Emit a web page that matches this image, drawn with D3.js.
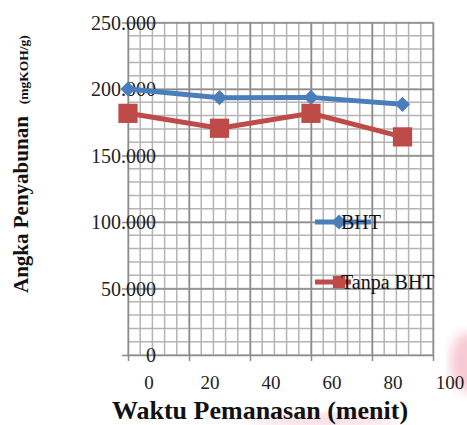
<!DOCTYPE html>
<html>
<head>
<meta charset="utf-8">
<script src="https://cdn.jsdelivr.net/npm/d3@7"></script>
<style>
  body { margin: 0; background: #fff; }
  svg text { font-family: "Liberation Serif", "Times New Roman", serif; }
</style>
</head>
<body>
<div id="chart"></div>
<script>
const width = 467, height = 425, margin = { top: 22.5, right: 34, bottom: 70, left: 128 };

// data
const waktu = [0, 30, 60, 90];
const bht = [200.0, 193.5, 193.7, 188.5];
const tanpaBht = [181.7, 170.5, 181.7, 164.0];
const seriesNames = ["BHT", "Tanpa BHT"];
const xTicks = [0, 20, 40, 60, 80, 100];
const yTicks = [0, 50, 100, 150, 200, 250];
const yTickLabels = ["0", "50.000", "100.000", "150.000", "200.000", "250.000"];

const x = d3.scaleLinear().domain([0, 100]).range([margin.left, width - margin.right]);
const y = d3.scaleLinear().domain([0, 250]).range([height - margin.bottom, margin.top]);

const svg = d3.select("#chart").append("svg")
    .attr("width", width).attr("height", height)
    .attr("font-family", "Liberation Serif, serif");

// faint pink watermark smudges of the scanned page
const defs = svg.append("defs");
defs.append("filter").attr("id", "blur").append("feGaussianBlur").attr("stdDeviation", 6);
svg.append("ellipse").attr("cx", 470).attr("cy", 362).attr("rx", 20).attr("ry", 30)
    .attr("fill", "#f7c9d3").attr("filter", "url(#blur)");
svg.append("ellipse").attr("cx", 325).attr("cy", 420).attr("rx", 75).attr("ry", 6)
    .attr("fill", "#fad6de").attr("filter", "url(#blur)");

// minor grid
svg.append("g")
    .selectAll("line")
    .data(d3.range(0, 101, 4))
    .join("line")
      .attr("x1", d => x(d)).attr("x2", d => x(d))
      .attr("y1", y(250)).attr("y2", y(0))
      .attr("stroke", "#b4b4b4").attr("stroke-width", 1.5);
svg.append("g")
    .selectAll("line")
    .data(d3.range(0, 251, 10))
    .join("line")
      .attr("x1", x(0)).attr("x2", x(100))
      .attr("y1", d => y(d)).attr("y2", d => y(d))
      .attr("stroke", "#b4b4b4").attr("stroke-width", 1.5);

// major grid via axes
svg.append("g")
    .attr("transform", `translate(0,${y(0)})`)
    .call(d3.axisBottom(x).tickValues(xTicks).tickSize(-(y(0) - y(250))).tickSizeOuter(0).tickFormat(""))
    .call(g => g.select(".domain").remove())
    .call(g => g.selectAll(".tick line").attr("stroke", "#8c8c8c").attr("stroke-width", 1.5)
        .attr("y1", 6));
svg.append("g")
    .attr("transform", `translate(${x(0)},0)`)
    .call(d3.axisLeft(y).tickValues(yTicks).tickSize(-(x(100) - x(0))).tickSizeOuter(0).tickFormat(""))
    .call(g => g.select(".domain").remove())
    .call(g => g.selectAll(".tick line").attr("stroke", "#8c8c8c").attr("stroke-width", 1.5)
        .attr("x1", -6));

// tick labels (they sit to the right of the gridlines, as in the original)
svg.append("g")
    .selectAll("text")
    .data(xTicks)
    .join("text")
      .attr("x", d => Math.min(x(d) + 21, width - 17))
      .attr("y", y(0) + 34)
      .attr("text-anchor", "middle")
      .attr("font-size", 19)
      .attr("fill", "#222")
      .text(d => d);
svg.append("g")
    .selectAll("text")
    .data(yTicks)
    .join("text")
      .attr("x", x(0) + 28)
      .attr("y", d => y(d))
      .attr("dy", "0.35em")
      .attr("text-anchor", "end")
      .attr("font-size", 20)
      .attr("fill", "#222")
      .text((d, i) => yTickLabels[i]);

// series
const colors = ["#4a7ebb", "#be4b48"];
const series = [bht, tanpaBht];
const line = d3.line().x((d, i) => x(waktu[i])).y(d => y(d));
const diamond = d3.symbol(d3.symbolSquare, 115);
const square = d3.symbol(d3.symbolSquare, 370);

series.forEach((vals, s) => {
  svg.append("path")
      .datum(vals)
      .attr("d", line)
      .attr("fill", "none")
      .attr("stroke", colors[s])
      .attr("stroke-width", 5);
  svg.append("g")
    .selectAll("path")
    .data(vals)
    .join("path")
      .attr("d", s === 0 ? diamond : square)
      .attr("transform", (d, i) => `translate(${x(waktu[i])},${y(d)})` + (s === 0 ? " rotate(45)" : ""))
      .attr("fill", colors[s]);
});

// legend
const legend = svg.append("g");
const legendY = [222, 282];
seriesNames.forEach((name, s) => {
  const g = legend.append("g").attr("transform", `translate(315,${legendY[s]})`);
  g.append("line").attr("x1", 0).attr("x2", s === 0 ? 56 : 36)
      .attr("stroke", colors[s]).attr("stroke-width", 5);
  g.append("path")
      .attr("d", s === 0 ? diamond : d3.symbol(d3.symbolSquare, 150))
      .attr("transform", `translate(24,0)` + (s === 0 ? " rotate(45)" : ""))
      .attr("fill", colors[s]);
  g.append("text")
      .attr("x", 26).attr("dy", "0.35em")
      .attr("font-size", 20).attr("fill", "#111")
      .text(name);
});

// axis titles
svg.append("text")
    .attr("x", 260).attr("y", 419)
    .attr("text-anchor", "middle")
    .attr("font-size", 26).attr("font-weight", "bold")
    .attr("fill", "#111")
    .text("Waktu Pemanasan (menit)");

const yt = svg.append("text")
    .attr("transform", "translate(28,293) rotate(-90)")
    .attr("font-weight", "bold").attr("fill", "#111");
yt.append("tspan").attr("font-size", 21).text("Angka  Penyabunan");
yt.append("tspan").attr("font-size", 13.5).attr("dx", 12).text("(mgKOH/g)");
</script>
</body>
</html>
